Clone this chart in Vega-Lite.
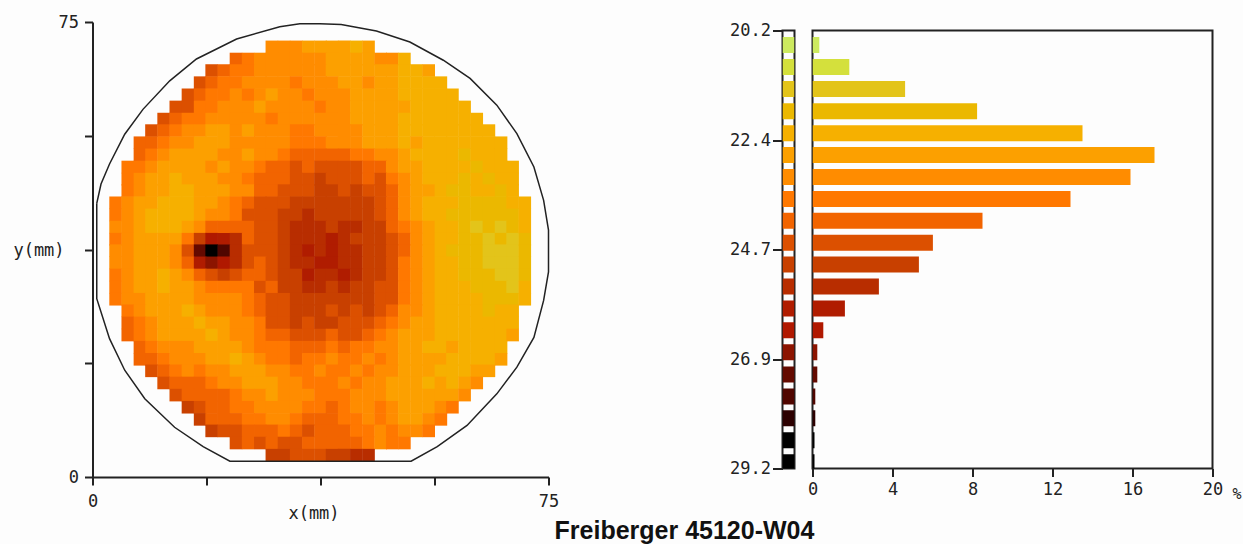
{"$schema":"https://vega.github.io/schema/vega-lite/v6.json","background":"#fdfdfd","padding":{"left":12.5,"top":13,"right":0,"bottom":0},"bounds":"flush","center":true,"spacing":18,"title":{"text":"Freiberger 45120-W04","orient":"bottom","anchor":"middle","font":"Liberation Sans","fontWeight":"bold","fontSize":25,"color":"#111","dx":57,"offset":-2},"config":{"view":{"stroke":null},"axis":{"labelFont":"DejaVu Sans Mono","titleFont":"DejaVu Sans Mono","labelFontSize":17,"titleFontSize":17,"titleFontWeight":"normal","labelColor":"#222","titleColor":"#222","domainColor":"#222","tickColor":"#222","domainWidth":2,"tickWidth":2,"grid":false,"labelFlush":false}},"datasets":{"cells":[
{"x":29.5,"y":70.9,"v":23.1},{"x":31.5,"y":70.9,"v":22.9},{"x":33.5,"y":70.9,"v":23.2},{"x":35.5,"y":70.9,"v":22.8},{"x":37.5,"y":70.9,"v":22.7},{"x":39.4,"y":70.9,"v":22.8},{"x":41.4,"y":70.9,"v":22.6},{"x":43.4,"y":70.9,"v":22.4},{"x":45.4,"y":70.9,"v":22.6},
{"x":23.6,"y":68.9,"v":24},{"x":25.6,"y":68.9,"v":23.5},{"x":27.6,"y":68.9,"v":23.2},{"x":29.5,"y":68.9,"v":23.3},{"x":31.5,"y":68.9,"v":22.9},{"x":33.5,"y":68.9,"v":23},{"x":35.5,"y":68.9,"v":23.1},{"x":37.5,"y":68.9,"v":22.9},{"x":39.4,"y":68.9,"v":22.7},{"x":41.4,"y":68.9,"v":22.7},{"x":43.4,"y":68.9,"v":22.6},{"x":45.4,"y":68.9,"v":22.8},{"x":47.4,"y":68.9,"v":22.9},{"x":49.3,"y":68.9,"v":23},{"x":51.3,"y":68.9,"v":22.4},
{"x":19.6,"y":67,"v":24.4},{"x":21.6,"y":67,"v":24.1},{"x":23.6,"y":67,"v":23.5},{"x":25.6,"y":67,"v":23.4},{"x":27.6,"y":67,"v":23.1},{"x":29.5,"y":67,"v":23.1},{"x":31.5,"y":67,"v":23.2},{"x":33.5,"y":67,"v":22.9},{"x":35.5,"y":67,"v":23.3},{"x":37.5,"y":67,"v":23},{"x":39.4,"y":67,"v":22.7},{"x":41.4,"y":67,"v":22.8},{"x":43.4,"y":67,"v":22.6},{"x":45.4,"y":67,"v":22.7},{"x":47.4,"y":67,"v":22.7},{"x":49.3,"y":67,"v":22.5},{"x":51.3,"y":67,"v":22.2},{"x":53.3,"y":67,"v":22.3},{"x":55.3,"y":67,"v":22.5},
{"x":17.7,"y":65,"v":24.4},{"x":19.6,"y":65,"v":24.2},{"x":21.6,"y":65,"v":23.6},{"x":23.6,"y":65,"v":23.4},{"x":25.6,"y":65,"v":23.3},{"x":27.6,"y":65,"v":23},{"x":29.5,"y":65,"v":22.9},{"x":31.5,"y":65,"v":23.2},{"x":33.5,"y":65,"v":23.4},{"x":35.5,"y":65,"v":23.1},{"x":37.5,"y":65,"v":23.2},{"x":39.4,"y":65,"v":22.9},{"x":41.4,"y":65,"v":22.8},{"x":43.4,"y":65,"v":22.6},{"x":45.4,"y":65,"v":22.9},{"x":47.4,"y":65,"v":22.7},{"x":49.3,"y":65,"v":22.5},{"x":51.3,"y":65,"v":22.2},{"x":53.3,"y":65,"v":22.4},{"x":55.3,"y":65,"v":22.3},{"x":57.3,"y":65,"v":22.4},
{"x":15.7,"y":63,"v":24.6},{"x":17.7,"y":63,"v":24.1},{"x":19.6,"y":63,"v":23.7},{"x":21.6,"y":63,"v":23.6},{"x":23.6,"y":63,"v":23.2},{"x":25.6,"y":63,"v":23.4},{"x":27.6,"y":63,"v":22.9},{"x":29.5,"y":63,"v":22.8},{"x":31.5,"y":63,"v":23.3},{"x":33.5,"y":63,"v":23},{"x":35.5,"y":63,"v":23.4},{"x":37.5,"y":63,"v":23.1},{"x":39.4,"y":63,"v":23.1},{"x":41.4,"y":63,"v":22.9},{"x":43.4,"y":63,"v":22.8},{"x":45.4,"y":63,"v":22.7},{"x":47.4,"y":63,"v":22.6},{"x":49.3,"y":63,"v":22.7},{"x":51.3,"y":63,"v":22.3},{"x":53.3,"y":63,"v":22.1},{"x":55.3,"y":63,"v":22.3},{"x":57.3,"y":63,"v":22.2},{"x":59.2,"y":63,"v":22.3},
{"x":13.7,"y":61,"v":24.6},{"x":15.7,"y":61,"v":24.3},{"x":17.7,"y":61,"v":23.7},{"x":19.6,"y":61,"v":23.5},{"x":21.6,"y":61,"v":23.1},{"x":23.6,"y":61,"v":23.3},{"x":25.6,"y":61,"v":23},{"x":27.6,"y":61,"v":22.8},{"x":29.5,"y":61,"v":22.9},{"x":31.5,"y":61,"v":23.3},{"x":33.5,"y":61,"v":23.1},{"x":35.5,"y":61,"v":23.2},{"x":37.5,"y":61,"v":23.5},{"x":39.4,"y":61,"v":22.9},{"x":41.4,"y":61,"v":23},{"x":43.4,"y":61,"v":22.8},{"x":45.4,"y":61,"v":22.7},{"x":47.4,"y":61,"v":22.5},{"x":49.3,"y":61,"v":22.6},{"x":51.3,"y":61,"v":22.5},{"x":53.3,"y":61,"v":22},{"x":55.3,"y":61,"v":22.2},{"x":57.3,"y":61,"v":22.1},{"x":59.2,"y":61,"v":22.3},{"x":61.2,"y":61,"v":22.3},
{"x":11.7,"y":59,"v":24.5},{"x":13.7,"y":59,"v":24.2},{"x":15.7,"y":59,"v":23.7},{"x":17.7,"y":59,"v":23.4},{"x":19.6,"y":59,"v":23.2},{"x":21.6,"y":59,"v":23},{"x":23.6,"y":59,"v":23.3},{"x":25.6,"y":59,"v":22.9},{"x":27.6,"y":59,"v":23.1},{"x":29.5,"y":59,"v":23.4},{"x":31.5,"y":59,"v":23},{"x":33.5,"y":59,"v":23.2},{"x":35.5,"y":59,"v":23.3},{"x":37.5,"y":59,"v":23},{"x":39.4,"y":59,"v":23.1},{"x":41.4,"y":59,"v":22.9},{"x":43.4,"y":59,"v":22.8},{"x":45.4,"y":59,"v":22.6},{"x":47.4,"y":59,"v":22.7},{"x":49.3,"y":59,"v":22.5},{"x":51.3,"y":59,"v":22.2},{"x":53.3,"y":59,"v":22.4},{"x":55.3,"y":59,"v":22.1},{"x":57.3,"y":59,"v":22.1},{"x":59.2,"y":59,"v":22.2},{"x":61.2,"y":59,"v":22.2},{"x":63.2,"y":59,"v":22.3},
{"x":9.7,"y":57.1,"v":24.3},{"x":11.7,"y":57.1,"v":23.9},{"x":13.7,"y":57.1,"v":23.5},{"x":15.7,"y":57.1,"v":23.3},{"x":17.7,"y":57.1,"v":23},{"x":19.6,"y":57.1,"v":22.8},{"x":21.6,"y":57.1,"v":22.8},{"x":23.6,"y":57.1,"v":23.1},{"x":25.6,"y":57.1,"v":22.7},{"x":27.6,"y":57.1,"v":23},{"x":29.5,"y":57.1,"v":23.2},{"x":31.5,"y":57.1,"v":23.1},{"x":33.5,"y":57.1,"v":23.5},{"x":35.5,"y":57.1,"v":23.4},{"x":37.5,"y":57.1,"v":23.1},{"x":39.4,"y":57.1,"v":23.3},{"x":41.4,"y":57.1,"v":23},{"x":43.4,"y":57.1,"v":22.9},{"x":45.4,"y":57.1,"v":22.7},{"x":47.4,"y":57.1,"v":22.7},{"x":49.3,"y":57.1,"v":22.5},{"x":51.3,"y":57.1,"v":22.4},{"x":53.3,"y":57.1,"v":22.1},{"x":55.3,"y":57.1,"v":22.2},{"x":57.3,"y":57.1,"v":22},{"x":59.2,"y":57.1,"v":22.2},{"x":61.2,"y":57.1,"v":22.1},{"x":63.2,"y":57.1,"v":22.2},{"x":65.2,"y":57.1,"v":22.3},
{"x":7.8,"y":55.1,"v":24.2},{"x":9.7,"y":55.1,"v":23.8},{"x":11.7,"y":55.1,"v":23.4},{"x":13.7,"y":55.1,"v":23},{"x":15.7,"y":55.1,"v":22.9},{"x":17.7,"y":55.1,"v":22.6},{"x":19.6,"y":55.1,"v":22.8},{"x":21.6,"y":55.1,"v":22.7},{"x":23.6,"y":55.1,"v":22.9},{"x":25.6,"y":55.1,"v":23.1},{"x":27.6,"y":55.1,"v":22.9},{"x":29.5,"y":55.1,"v":23.3},{"x":31.5,"y":55.1,"v":23.2},{"x":33.5,"y":55.1,"v":23.5},{"x":35.5,"y":55.1,"v":23.7},{"x":37.5,"y":55.1,"v":23.4},{"x":39.4,"y":55.1,"v":23.2},{"x":41.4,"y":55.1,"v":23.1},{"x":43.4,"y":55.1,"v":23.3},{"x":45.4,"y":55.1,"v":22.8},{"x":47.4,"y":55.1,"v":22.7},{"x":49.3,"y":55.1,"v":22.6},{"x":51.3,"y":55.1,"v":22.3},{"x":53.3,"y":55.1,"v":22.5},{"x":55.3,"y":55.1,"v":22.2},{"x":57.3,"y":55.1,"v":22},{"x":59.2,"y":55.1,"v":22.3},{"x":61.2,"y":55.1,"v":22},{"x":63.2,"y":55.1,"v":22.1},{"x":65.2,"y":55.1,"v":22.2},{"x":67.2,"y":55.1,"v":22.3},
{"x":7.8,"y":53.1,"v":23.8},{"x":9.7,"y":53.1,"v":23.5},{"x":11.7,"y":53.1,"v":23},{"x":13.7,"y":53.1,"v":22.8},{"x":15.7,"y":53.1,"v":22.7},{"x":17.7,"y":53.1,"v":22.5},{"x":19.6,"y":53.1,"v":22.8},{"x":21.6,"y":53.1,"v":22.9},{"x":23.6,"y":53.1,"v":23},{"x":25.6,"y":53.1,"v":22.7},{"x":27.6,"y":53.1,"v":23.1},{"x":29.5,"y":53.1,"v":23.2},{"x":31.5,"y":53.1,"v":23.6},{"x":33.5,"y":53.1,"v":23.8},{"x":35.5,"y":53.1,"v":23.9},{"x":37.5,"y":53.1,"v":24.1},{"x":39.4,"y":53.1,"v":23.8},{"x":41.4,"y":53.1,"v":24},{"x":43.4,"y":53.1,"v":23.7},{"x":45.4,"y":53.1,"v":23.4},{"x":47.4,"y":53.1,"v":23.1},{"x":49.3,"y":53.1,"v":22.9},{"x":51.3,"y":53.1,"v":22.6},{"x":53.3,"y":53.1,"v":22.4},{"x":55.3,"y":53.1,"v":22.3},{"x":57.3,"y":53.1,"v":22.1},{"x":59.2,"y":53.1,"v":22.2},{"x":61.2,"y":53.1,"v":21.8},{"x":63.2,"y":53.1,"v":22.1},{"x":65.2,"y":53.1,"v":22.2},{"x":67.2,"y":53.1,"v":22.2},
{"x":5.8,"y":51.1,"v":23.7},{"x":7.8,"y":51.1,"v":23.4},{"x":9.7,"y":51.1,"v":23.1},{"x":11.7,"y":51.1,"v":22.7},{"x":13.7,"y":51.1,"v":22.5},{"x":15.7,"y":51.1,"v":22.7},{"x":17.7,"y":51.1,"v":22.6},{"x":19.6,"y":51.1,"v":22.9},{"x":21.6,"y":51.1,"v":22.7},{"x":23.6,"y":51.1,"v":23},{"x":25.6,"y":51.1,"v":23.3},{"x":27.6,"y":51.1,"v":23.4},{"x":29.5,"y":51.1,"v":23.8},{"x":31.5,"y":51.1,"v":23.9},{"x":33.5,"y":51.1,"v":24.3},{"x":35.5,"y":51.1,"v":24.2},{"x":37.5,"y":51.1,"v":24.4},{"x":39.4,"y":51.1,"v":24.3},{"x":41.4,"y":51.1,"v":24.5},{"x":43.4,"y":51.1,"v":24.4},{"x":45.4,"y":51.1,"v":24.1},{"x":47.4,"y":51.1,"v":23.8},{"x":49.3,"y":51.1,"v":23.2},{"x":51.3,"y":51.1,"v":22.8},{"x":53.3,"y":51.1,"v":22.5},{"x":55.3,"y":51.1,"v":22.3},{"x":57.3,"y":51.1,"v":22.1},{"x":59.2,"y":51.1,"v":22},{"x":61.2,"y":51.1,"v":22.2},{"x":63.2,"y":51.1,"v":21.8},{"x":65.2,"y":51.1,"v":22.1},{"x":67.2,"y":51.1,"v":22},{"x":69.1,"y":51.1,"v":22.1},
{"x":5.8,"y":49.1,"v":23.5},{"x":7.8,"y":49.1,"v":23.1},{"x":9.7,"y":49.1,"v":22.8},{"x":11.7,"y":49.1,"v":22.7},{"x":13.7,"y":49.1,"v":22.4},{"x":15.7,"y":49.1,"v":22.5},{"x":17.7,"y":49.1,"v":22.6},{"x":19.6,"y":49.1,"v":22.8},{"x":21.6,"y":49.1,"v":22.9},{"x":23.6,"y":49.1,"v":22.9},{"x":25.6,"y":49.1,"v":23.4},{"x":27.6,"y":49.1,"v":23.8},{"x":29.5,"y":49.1,"v":24.1},{"x":31.5,"y":49.1,"v":24.2},{"x":33.5,"y":49.1,"v":24.5},{"x":35.5,"y":49.1,"v":24.5},{"x":37.5,"y":49.1,"v":24.8},{"x":39.4,"y":49.1,"v":24.6},{"x":41.4,"y":49.1,"v":24.6},{"x":43.4,"y":49.1,"v":24.5},{"x":45.4,"y":49.1,"v":24.2},{"x":47.4,"y":49.1,"v":24.3},{"x":49.3,"y":49.1,"v":23.7},{"x":51.3,"y":49.1,"v":23},{"x":53.3,"y":49.1,"v":22.5},{"x":55.3,"y":49.1,"v":22.4},{"x":57.3,"y":49.1,"v":22.1},{"x":59.2,"y":49.1,"v":22.2},{"x":61.2,"y":49.1,"v":21.8},{"x":63.2,"y":49.1,"v":22},{"x":65.2,"y":49.1,"v":21.9},{"x":67.2,"y":49.1,"v":22},{"x":69.1,"y":49.1,"v":22.1},
{"x":5.8,"y":47.2,"v":23.4},{"x":7.8,"y":47.2,"v":23},{"x":9.7,"y":47.2,"v":22.7},{"x":11.7,"y":47.2,"v":22.5},{"x":13.7,"y":47.2,"v":22.4},{"x":15.7,"y":47.2,"v":22.3},{"x":17.7,"y":47.2,"v":22.5},{"x":19.6,"y":47.2,"v":22.6},{"x":21.6,"y":47.2,"v":22.8},{"x":23.6,"y":47.2,"v":23.1},{"x":25.6,"y":47.2,"v":23.3},{"x":27.6,"y":47.2,"v":24.1},{"x":29.5,"y":47.2,"v":24.2},{"x":31.5,"y":47.2,"v":24.6},{"x":33.5,"y":47.2,"v":24.6},{"x":35.5,"y":47.2,"v":24.5},{"x":37.5,"y":47.2,"v":24.9},{"x":39.4,"y":47.2,"v":25},{"x":41.4,"y":47.2,"v":24.6},{"x":43.4,"y":47.2,"v":25.1},{"x":45.4,"y":47.2,"v":24.6},{"x":47.4,"y":47.2,"v":24.4},{"x":49.3,"y":47.2,"v":24},{"x":51.3,"y":47.2,"v":23.2},{"x":53.3,"y":47.2,"v":22.7},{"x":55.3,"y":47.2,"v":22.5},{"x":57.3,"y":47.2,"v":22.2},{"x":59.2,"y":47.2,"v":21.8},{"x":61.2,"y":47.2,"v":21.7},{"x":63.2,"y":47.2,"v":22.1},{"x":65.2,"y":47.2,"v":22},{"x":67.2,"y":47.2,"v":21.7},{"x":69.1,"y":47.2,"v":22},
{"x":3.8,"y":45.2,"v":23.7},{"x":5.8,"y":45.2,"v":23.2},{"x":7.8,"y":45.2,"v":22.8},{"x":9.7,"y":45.2,"v":22.5},{"x":11.7,"y":45.2,"v":22.4},{"x":13.7,"y":45.2,"v":22.3},{"x":15.7,"y":45.2,"v":22.2},{"x":17.7,"y":45.2,"v":22.5},{"x":19.6,"y":45.2,"v":22.7},{"x":21.6,"y":45.2,"v":23},{"x":23.6,"y":45.2,"v":23.5},{"x":25.6,"y":45.2,"v":24.2},{"x":27.6,"y":45.2,"v":24.5},{"x":29.5,"y":45.2,"v":24.6},{"x":31.5,"y":45.2,"v":24.6},{"x":33.5,"y":45.2,"v":24.9},{"x":35.5,"y":45.2,"v":24.7},{"x":37.5,"y":45.2,"v":24.8},{"x":39.4,"y":45.2,"v":25},{"x":41.4,"y":45.2,"v":25.1},{"x":43.4,"y":45.2,"v":24.9},{"x":45.4,"y":45.2,"v":24.7},{"x":47.4,"y":45.2,"v":24.4},{"x":49.3,"y":45.2,"v":23.9},{"x":51.3,"y":45.2,"v":23},{"x":53.3,"y":45.2,"v":22.6},{"x":55.3,"y":45.2,"v":22.3},{"x":57.3,"y":45.2,"v":22.1},{"x":59.2,"y":45.2,"v":22},{"x":61.2,"y":45.2,"v":21.8},{"x":63.2,"y":45.2,"v":21.6},{"x":65.2,"y":45.2,"v":21.9},{"x":67.2,"y":45.2,"v":21.8},{"x":69.1,"y":45.2,"v":22},{"x":71.1,"y":45.2,"v":22.2},
{"x":3.8,"y":43.2,"v":23.4},{"x":5.8,"y":43.2,"v":23.1},{"x":7.8,"y":43.2,"v":22.6},{"x":9.7,"y":43.2,"v":22.4},{"x":11.7,"y":43.2,"v":22.3},{"x":13.7,"y":43.2,"v":22.2},{"x":15.7,"y":43.2,"v":22.4},{"x":17.7,"y":43.2,"v":22.6},{"x":19.6,"y":43.2,"v":22.9},{"x":21.6,"y":43.2,"v":23.1},{"x":23.6,"y":43.2,"v":23.5},{"x":25.6,"y":43.2,"v":24.3},{"x":27.6,"y":43.2,"v":24.3},{"x":29.5,"y":43.2,"v":24.5},{"x":31.5,"y":43.2,"v":24.8},{"x":33.5,"y":43.2,"v":25},{"x":35.5,"y":43.2,"v":25.2},{"x":37.5,"y":43.2,"v":25.1},{"x":39.4,"y":43.2,"v":25},{"x":41.4,"y":43.2,"v":24.9},{"x":43.4,"y":43.2,"v":24.8},{"x":45.4,"y":43.2,"v":25},{"x":47.4,"y":43.2,"v":24.6},{"x":49.3,"y":43.2,"v":24},{"x":51.3,"y":43.2,"v":23.1},{"x":53.3,"y":43.2,"v":22.7},{"x":55.3,"y":43.2,"v":22.3},{"x":57.3,"y":43.2,"v":22.2},{"x":59.2,"y":43.2,"v":21.9},{"x":61.2,"y":43.2,"v":21.7},{"x":63.2,"y":43.2,"v":21.8},{"x":65.2,"y":43.2,"v":21.6},{"x":67.2,"y":43.2,"v":21.7},{"x":69.1,"y":43.2,"v":21.9},{"x":71.1,"y":43.2,"v":22.1},
{"x":3.8,"y":41.2,"v":23.3},{"x":5.8,"y":41.2,"v":22.9},{"x":7.8,"y":41.2,"v":22.6},{"x":9.7,"y":41.2,"v":22.4},{"x":11.7,"y":41.2,"v":22.2},{"x":13.7,"y":41.2,"v":22.4},{"x":15.7,"y":41.2,"v":22.7},{"x":17.7,"y":41.2,"v":23},{"x":19.6,"y":41.2,"v":23.8},{"x":21.6,"y":41.2,"v":24.1},{"x":23.6,"y":41.2,"v":23.9},{"x":25.6,"y":41.2,"v":24.2},{"x":27.6,"y":41.2,"v":24.4},{"x":29.5,"y":41.2,"v":24.6},{"x":31.5,"y":41.2,"v":24.7},{"x":33.5,"y":41.2,"v":25.2},{"x":35.5,"y":41.2,"v":25.4},{"x":37.5,"y":41.2,"v":25.3},{"x":39.4,"y":41.2,"v":25.1},{"x":41.4,"y":41.2,"v":25.4},{"x":43.4,"y":41.2,"v":25.2},{"x":45.4,"y":41.2,"v":24.9},{"x":47.4,"y":41.2,"v":24.7},{"x":49.3,"y":41.2,"v":24.2},{"x":51.3,"y":41.2,"v":23.5},{"x":53.3,"y":41.2,"v":22.9},{"x":55.3,"y":41.2,"v":22.5},{"x":57.3,"y":41.2,"v":22.2},{"x":59.2,"y":41.2,"v":22.1},{"x":61.2,"y":41.2,"v":21.9},{"x":63.2,"y":41.2,"v":21.5},{"x":65.2,"y":41.2,"v":21.7},{"x":67.2,"y":41.2,"v":21.4},{"x":69.1,"y":41.2,"v":21.7},{"x":71.1,"y":41.2,"v":22},
{"x":3.8,"y":39.2,"v":23.4},{"x":5.8,"y":39.2,"v":23},{"x":7.8,"y":39.2,"v":22.7},{"x":9.7,"y":39.2,"v":22.5},{"x":11.7,"y":39.2,"v":22.6},{"x":13.7,"y":39.2,"v":22.8},{"x":15.7,"y":39.2,"v":23.7},{"x":17.7,"y":39.2,"v":25},{"x":19.6,"y":39.2,"v":26.3},{"x":21.6,"y":39.2,"v":25.9},{"x":23.6,"y":39.2,"v":25.2},{"x":25.6,"y":39.2,"v":24.2},{"x":27.6,"y":39.2,"v":24.4},{"x":29.5,"y":39.2,"v":24.6},{"x":31.5,"y":39.2,"v":24.8},{"x":33.5,"y":39.2,"v":25.3},{"x":35.5,"y":39.2,"v":25.5},{"x":37.5,"y":39.2,"v":25.4},{"x":39.4,"y":39.2,"v":25.6},{"x":41.4,"y":39.2,"v":25.3},{"x":43.4,"y":39.2,"v":25.1},{"x":45.4,"y":39.2,"v":24.9},{"x":47.4,"y":39.2,"v":24.8},{"x":49.3,"y":39.2,"v":24.6},{"x":51.3,"y":39.2,"v":23.8},{"x":53.3,"y":39.2,"v":23},{"x":55.3,"y":39.2,"v":22.5},{"x":57.3,"y":39.2,"v":22.2},{"x":59.2,"y":39.2,"v":22},{"x":61.2,"y":39.2,"v":21.7},{"x":63.2,"y":39.2,"v":21.6},{"x":65.2,"y":39.2,"v":21.4},{"x":67.2,"y":39.2,"v":21.6},{"x":69.1,"y":39.2,"v":21.4},{"x":71.1,"y":39.2,"v":21.9},
{"x":3.8,"y":37.3,"v":23.2},{"x":5.8,"y":37.3,"v":22.9},{"x":7.8,"y":37.3,"v":22.6},{"x":9.7,"y":37.3,"v":22.6},{"x":11.7,"y":37.3,"v":22.7},{"x":13.7,"y":37.3,"v":23.1},{"x":15.7,"y":37.3,"v":24.3},{"x":17.7,"y":37.3,"v":27},{"x":19.6,"y":37.3,"v":29},{"x":21.6,"y":37.3,"v":27.8},{"x":23.6,"y":37.3,"v":25.5},{"x":25.6,"y":37.3,"v":24.5},{"x":27.6,"y":37.3,"v":24.4},{"x":29.5,"y":37.3,"v":24.6},{"x":31.5,"y":37.3,"v":24.9},{"x":33.5,"y":37.3,"v":25.4},{"x":35.5,"y":37.3,"v":25.6},{"x":37.5,"y":37.3,"v":25.5},{"x":39.4,"y":37.3,"v":25.7},{"x":41.4,"y":37.3,"v":25.5},{"x":43.4,"y":37.3,"v":25.4},{"x":45.4,"y":37.3,"v":25},{"x":47.4,"y":37.3,"v":24.9},{"x":49.3,"y":37.3,"v":24.6},{"x":51.3,"y":37.3,"v":23.9},{"x":53.3,"y":37.3,"v":23.1},{"x":55.3,"y":37.3,"v":22.6},{"x":57.3,"y":37.3,"v":22.3},{"x":59.2,"y":37.3,"v":21.9},{"x":61.2,"y":37.3,"v":21.8},{"x":63.2,"y":37.3,"v":21.7},{"x":65.2,"y":37.3,"v":21.5},{"x":67.2,"y":37.3,"v":21.3},{"x":69.1,"y":37.3,"v":21.5},{"x":71.1,"y":37.3,"v":21.8},
{"x":3.8,"y":35.3,"v":23.3},{"x":5.8,"y":35.3,"v":23},{"x":7.8,"y":35.3,"v":22.8},{"x":9.7,"y":35.3,"v":22.6},{"x":11.7,"y":35.3,"v":22.7},{"x":13.7,"y":35.3,"v":23},{"x":15.7,"y":35.3,"v":24},{"x":17.7,"y":35.3,"v":25.6},{"x":19.6,"y":35.3,"v":26.8},{"x":21.6,"y":35.3,"v":26.2},{"x":23.6,"y":35.3,"v":25.3},{"x":25.6,"y":35.3,"v":24.4},{"x":27.6,"y":35.3,"v":24.2},{"x":29.5,"y":35.3,"v":24.6},{"x":31.5,"y":35.3,"v":24.7},{"x":33.5,"y":35.3,"v":25.3},{"x":35.5,"y":35.3,"v":25.5},{"x":37.5,"y":35.3,"v":25.6},{"x":39.4,"y":35.3,"v":25.7},{"x":41.4,"y":35.3,"v":25.4},{"x":43.4,"y":35.3,"v":25.3},{"x":45.4,"y":35.3,"v":25.1},{"x":47.4,"y":35.3,"v":24.8},{"x":49.3,"y":35.3,"v":24.5},{"x":51.3,"y":35.3,"v":23.7},{"x":53.3,"y":35.3,"v":23},{"x":55.3,"y":35.3,"v":22.5},{"x":57.3,"y":35.3,"v":22.1},{"x":59.2,"y":35.3,"v":22},{"x":61.2,"y":35.3,"v":21.8},{"x":63.2,"y":35.3,"v":21.6},{"x":65.2,"y":35.3,"v":21.3},{"x":67.2,"y":35.3,"v":21.5},{"x":69.1,"y":35.3,"v":21.4},{"x":71.1,"y":35.3,"v":21.7},
{"x":3.8,"y":33.3,"v":23.4},{"x":5.8,"y":33.3,"v":23.1},{"x":7.8,"y":33.3,"v":22.7},{"x":9.7,"y":33.3,"v":22.5},{"x":11.7,"y":33.3,"v":22.4},{"x":13.7,"y":33.3,"v":22.6},{"x":15.7,"y":33.3,"v":23.3},{"x":17.7,"y":33.3,"v":24},{"x":19.6,"y":33.3,"v":24.6},{"x":21.6,"y":33.3,"v":24.8},{"x":23.6,"y":33.3,"v":24.4},{"x":25.6,"y":33.3,"v":24.1},{"x":27.6,"y":33.3,"v":24.2},{"x":29.5,"y":33.3,"v":24.5},{"x":31.5,"y":33.3,"v":24.8},{"x":33.5,"y":33.3,"v":25.1},{"x":35.5,"y":33.3,"v":25.6},{"x":37.5,"y":33.3,"v":25.4},{"x":39.4,"y":33.3,"v":25.3},{"x":41.4,"y":33.3,"v":25.6},{"x":43.4,"y":33.3,"v":25.2},{"x":45.4,"y":33.3,"v":25},{"x":47.4,"y":33.3,"v":24.7},{"x":49.3,"y":33.3,"v":24.4},{"x":51.3,"y":33.3,"v":23.7},{"x":53.3,"y":33.3,"v":22.9},{"x":55.3,"y":33.3,"v":22.6},{"x":57.3,"y":33.3,"v":22.3},{"x":59.2,"y":33.3,"v":22.2},{"x":61.2,"y":33.3,"v":21.9},{"x":63.2,"y":33.3,"v":21.8},{"x":65.2,"y":33.3,"v":21.6},{"x":67.2,"y":33.3,"v":21.4},{"x":69.1,"y":33.3,"v":21.3},{"x":71.1,"y":33.3,"v":21.9},
{"x":3.8,"y":31.3,"v":23.6},{"x":5.8,"y":31.3,"v":23.2},{"x":7.8,"y":31.3,"v":22.8},{"x":9.7,"y":31.3,"v":22.6},{"x":11.7,"y":31.3,"v":22.4},{"x":13.7,"y":31.3,"v":22.5},{"x":15.7,"y":31.3,"v":22.8},{"x":17.7,"y":31.3,"v":23.2},{"x":19.6,"y":31.3,"v":23.6},{"x":21.6,"y":31.3,"v":23.7},{"x":23.6,"y":31.3,"v":23.6},{"x":25.6,"y":31.3,"v":23.7},{"x":27.6,"y":31.3,"v":24.3},{"x":29.5,"y":31.3,"v":24.2},{"x":31.5,"y":31.3,"v":24.7},{"x":33.5,"y":31.3,"v":25},{"x":35.5,"y":31.3,"v":25.2},{"x":37.5,"y":31.3,"v":25.3},{"x":39.4,"y":31.3,"v":25},{"x":41.4,"y":31.3,"v":25.2},{"x":43.4,"y":31.3,"v":24.9},{"x":45.4,"y":31.3,"v":25},{"x":47.4,"y":31.3,"v":24.6},{"x":49.3,"y":31.3,"v":24.4},{"x":51.3,"y":31.3,"v":23.7},{"x":53.3,"y":31.3,"v":22.9},{"x":55.3,"y":31.3,"v":22.6},{"x":57.3,"y":31.3,"v":22.4},{"x":59.2,"y":31.3,"v":22.2},{"x":61.2,"y":31.3,"v":22.1},{"x":63.2,"y":31.3,"v":21.9},{"x":65.2,"y":31.3,"v":21.8},{"x":67.2,"y":31.3,"v":21.6},{"x":69.1,"y":31.3,"v":21.4},{"x":71.1,"y":31.3,"v":22},
{"x":3.8,"y":29.3,"v":23.7},{"x":5.8,"y":29.3,"v":23.3},{"x":7.8,"y":29.3,"v":23},{"x":9.7,"y":29.3,"v":22.7},{"x":11.7,"y":29.3,"v":22.5},{"x":13.7,"y":29.3,"v":22.5},{"x":15.7,"y":29.3,"v":22.7},{"x":17.7,"y":29.3,"v":22.9},{"x":19.6,"y":29.3,"v":23.1},{"x":21.6,"y":29.3,"v":23.2},{"x":23.6,"y":29.3,"v":23.3},{"x":25.6,"y":29.3,"v":23.5},{"x":27.6,"y":29.3,"v":24.1},{"x":29.5,"y":29.3,"v":24.4},{"x":31.5,"y":29.3,"v":24.5},{"x":33.5,"y":29.3,"v":24.9},{"x":35.5,"y":29.3,"v":24.8},{"x":37.5,"y":29.3,"v":25},{"x":39.4,"y":29.3,"v":24.8},{"x":41.4,"y":29.3,"v":25.1},{"x":43.4,"y":29.3,"v":24.7},{"x":45.4,"y":29.3,"v":24.8},{"x":47.4,"y":29.3,"v":24.6},{"x":49.3,"y":29.3,"v":24.4},{"x":51.3,"y":29.3,"v":23.5},{"x":53.3,"y":29.3,"v":22.9},{"x":55.3,"y":29.3,"v":22.6},{"x":57.3,"y":29.3,"v":22.4},{"x":59.2,"y":29.3,"v":22.2},{"x":61.2,"y":29.3,"v":22},{"x":63.2,"y":29.3,"v":22.1},{"x":65.2,"y":29.3,"v":21.7},{"x":67.2,"y":29.3,"v":21.6},{"x":69.1,"y":29.3,"v":21.9},{"x":71.1,"y":29.3,"v":22.2},
{"x":5.8,"y":27.4,"v":23.5},{"x":7.8,"y":27.4,"v":23.1},{"x":9.7,"y":27.4,"v":22.8},{"x":11.7,"y":27.4,"v":22.6},{"x":13.7,"y":27.4,"v":22.7},{"x":15.7,"y":27.4,"v":22.4},{"x":17.7,"y":27.4,"v":22.7},{"x":19.6,"y":27.4,"v":22.9},{"x":21.6,"y":27.4,"v":23},{"x":23.6,"y":27.4,"v":23.1},{"x":25.6,"y":27.4,"v":23.5},{"x":27.6,"y":27.4,"v":24.2},{"x":29.5,"y":27.4,"v":24.5},{"x":31.5,"y":27.4,"v":24.6},{"x":33.5,"y":27.4,"v":24.7},{"x":35.5,"y":27.4,"v":24.8},{"x":37.5,"y":27.4,"v":24.9},{"x":39.4,"y":27.4,"v":24.6},{"x":41.4,"y":27.4,"v":24.8},{"x":43.4,"y":27.4,"v":24.6},{"x":45.4,"y":27.4,"v":24.7},{"x":47.4,"y":27.4,"v":24.4},{"x":49.3,"y":27.4,"v":24.1},{"x":51.3,"y":27.4,"v":23.3},{"x":53.3,"y":27.4,"v":22.9},{"x":55.3,"y":27.4,"v":22.5},{"x":57.3,"y":27.4,"v":22.4},{"x":59.2,"y":27.4,"v":22.3},{"x":61.2,"y":27.4,"v":22.1},{"x":63.2,"y":27.4,"v":22},{"x":65.2,"y":27.4,"v":21.8},{"x":67.2,"y":27.4,"v":22},{"x":69.1,"y":27.4,"v":22.2},
{"x":5.8,"y":25.4,"v":23.8},{"x":7.8,"y":25.4,"v":23.4},{"x":9.7,"y":25.4,"v":23},{"x":11.7,"y":25.4,"v":22.7},{"x":13.7,"y":25.4,"v":22.6},{"x":15.7,"y":25.4,"v":22.5},{"x":17.7,"y":25.4,"v":22.4},{"x":19.6,"y":25.4,"v":22.6},{"x":21.6,"y":25.4,"v":22.8},{"x":23.6,"y":25.4,"v":23},{"x":25.6,"y":25.4,"v":23.1},{"x":27.6,"y":25.4,"v":23.7},{"x":29.5,"y":25.4,"v":24.4},{"x":31.5,"y":25.4,"v":24.6},{"x":33.5,"y":25.4,"v":24.8},{"x":35.5,"y":25.4,"v":24.6},{"x":37.5,"y":25.4,"v":24.7},{"x":39.4,"y":25.4,"v":24.9},{"x":41.4,"y":25.4,"v":24.5},{"x":43.4,"y":25.4,"v":24.5},{"x":45.4,"y":25.4,"v":24.3},{"x":47.4,"y":25.4,"v":24.1},{"x":49.3,"y":25.4,"v":23.5},{"x":51.3,"y":25.4,"v":23},{"x":53.3,"y":25.4,"v":22.7},{"x":55.3,"y":25.4,"v":22.6},{"x":57.3,"y":25.4,"v":22.4},{"x":59.2,"y":25.4,"v":22.2},{"x":61.2,"y":25.4,"v":22.1},{"x":63.2,"y":25.4,"v":22.2},{"x":65.2,"y":25.4,"v":22},{"x":67.2,"y":25.4,"v":22.3},{"x":69.1,"y":25.4,"v":22.3},
{"x":5.8,"y":23.4,"v":24.1},{"x":7.8,"y":23.4,"v":23.6},{"x":9.7,"y":23.4,"v":23.1},{"x":11.7,"y":23.4,"v":22.8},{"x":13.7,"y":23.4,"v":22.7},{"x":15.7,"y":23.4,"v":22.8},{"x":17.7,"y":23.4,"v":22.5},{"x":19.6,"y":23.4,"v":22.4},{"x":21.6,"y":23.4,"v":22.7},{"x":23.6,"y":23.4,"v":22.9},{"x":25.6,"y":23.4,"v":23.2},{"x":27.6,"y":23.4,"v":23.5},{"x":29.5,"y":23.4,"v":23.9},{"x":31.5,"y":23.4,"v":24.1},{"x":33.5,"y":23.4,"v":24.4},{"x":35.5,"y":23.4,"v":24.5},{"x":37.5,"y":23.4,"v":24.6},{"x":39.4,"y":23.4,"v":24.2},{"x":41.4,"y":23.4,"v":24.4},{"x":43.4,"y":23.4,"v":24.3},{"x":45.4,"y":23.4,"v":23.9},{"x":47.4,"y":23.4,"v":23.6},{"x":49.3,"y":23.4,"v":23.3},{"x":51.3,"y":23.4,"v":22.8},{"x":53.3,"y":23.4,"v":22.7},{"x":55.3,"y":23.4,"v":22.5},{"x":57.3,"y":23.4,"v":22.3},{"x":59.2,"y":23.4,"v":22.4},{"x":61.2,"y":23.4,"v":22.2},{"x":63.2,"y":23.4,"v":22.1},{"x":65.2,"y":23.4,"v":22.3},{"x":67.2,"y":23.4,"v":22.3},{"x":69.1,"y":23.4,"v":22.5},
{"x":7.8,"y":21.4,"v":24},{"x":9.7,"y":21.4,"v":23.5},{"x":11.7,"y":21.4,"v":23.1},{"x":13.7,"y":21.4,"v":23},{"x":15.7,"y":21.4,"v":22.9},{"x":17.7,"y":21.4,"v":22.7},{"x":19.6,"y":21.4,"v":22.5},{"x":21.6,"y":21.4,"v":22.6},{"x":23.6,"y":21.4,"v":22.8},{"x":25.6,"y":21.4,"v":23.3},{"x":27.6,"y":21.4,"v":23.4},{"x":29.5,"y":21.4,"v":23.6},{"x":31.5,"y":21.4,"v":23.7},{"x":33.5,"y":21.4,"v":23.9},{"x":35.5,"y":21.4,"v":24.1},{"x":37.5,"y":21.4,"v":24},{"x":39.4,"y":21.4,"v":23.7},{"x":41.4,"y":21.4,"v":24},{"x":43.4,"y":21.4,"v":23.6},{"x":45.4,"y":21.4,"v":23.4},{"x":47.4,"y":21.4,"v":23.3},{"x":49.3,"y":21.4,"v":23.2},{"x":51.3,"y":21.4,"v":22.7},{"x":53.3,"y":21.4,"v":22.8},{"x":55.3,"y":21.4,"v":22.4},{"x":57.3,"y":21.4,"v":22.3},{"x":59.2,"y":21.4,"v":22.5},{"x":61.2,"y":21.4,"v":22.2},{"x":63.2,"y":21.4,"v":22.1},{"x":65.2,"y":21.4,"v":22.2},{"x":67.2,"y":21.4,"v":22.4},
{"x":7.8,"y":19.4,"v":24.2},{"x":9.7,"y":19.4,"v":23.9},{"x":11.7,"y":19.4,"v":23.4},{"x":13.7,"y":19.4,"v":23.1},{"x":15.7,"y":19.4,"v":23.2},{"x":17.7,"y":19.4,"v":23},{"x":19.6,"y":19.4,"v":22.8},{"x":21.6,"y":19.4,"v":22.7},{"x":23.6,"y":19.4,"v":22.4},{"x":25.6,"y":19.4,"v":22.7},{"x":27.6,"y":19.4,"v":23.2},{"x":29.5,"y":19.4,"v":23.5},{"x":31.5,"y":19.4,"v":23.4},{"x":33.5,"y":19.4,"v":23.8},{"x":35.5,"y":19.4,"v":23.5},{"x":37.5,"y":19.4,"v":23.7},{"x":39.4,"y":19.4,"v":23.3},{"x":41.4,"y":19.4,"v":23.6},{"x":43.4,"y":19.4,"v":23.4},{"x":45.4,"y":19.4,"v":23.3},{"x":47.4,"y":19.4,"v":23.5},{"x":49.3,"y":19.4,"v":23.2},{"x":51.3,"y":19.4,"v":22.8},{"x":53.3,"y":19.4,"v":22.6},{"x":55.3,"y":19.4,"v":22.5},{"x":57.3,"y":19.4,"v":22.7},{"x":59.2,"y":19.4,"v":22.4},{"x":61.2,"y":19.4,"v":22.2},{"x":63.2,"y":19.4,"v":22.3},{"x":65.2,"y":19.4,"v":22.3},{"x":67.2,"y":19.4,"v":22.5},
{"x":9.7,"y":17.5,"v":24.5},{"x":11.7,"y":17.5,"v":24},{"x":13.7,"y":17.5,"v":23.5},{"x":15.7,"y":17.5,"v":23.3},{"x":17.7,"y":17.5,"v":23.4},{"x":19.6,"y":17.5,"v":23},{"x":21.6,"y":17.5,"v":22.9},{"x":23.6,"y":17.5,"v":22.6},{"x":25.6,"y":17.5,"v":22.7},{"x":27.6,"y":17.5,"v":22.5},{"x":29.5,"y":17.5,"v":22.9},{"x":31.5,"y":17.5,"v":23.2},{"x":33.5,"y":17.5,"v":23.4},{"x":35.5,"y":17.5,"v":23.7},{"x":37.5,"y":17.5,"v":23.3},{"x":39.4,"y":17.5,"v":23.5},{"x":41.4,"y":17.5,"v":23.6},{"x":43.4,"y":17.5,"v":23.2},{"x":45.4,"y":17.5,"v":23.4},{"x":47.4,"y":17.5,"v":23.1},{"x":49.3,"y":17.5,"v":23},{"x":51.3,"y":17.5,"v":22.7},{"x":53.3,"y":17.5,"v":22.5},{"x":55.3,"y":17.5,"v":22.6},{"x":57.3,"y":17.5,"v":22.3},{"x":59.2,"y":17.5,"v":22.3},{"x":61.2,"y":17.5,"v":22.4},{"x":63.2,"y":17.5,"v":22.5},{"x":65.2,"y":17.5,"v":22.8},
{"x":11.7,"y":15.5,"v":24.5},{"x":13.7,"y":15.5,"v":24.2},{"x":15.7,"y":15.5,"v":23.9},{"x":17.7,"y":15.5,"v":24},{"x":19.6,"y":15.5,"v":23.5},{"x":21.6,"y":15.5,"v":23.2},{"x":23.6,"y":15.5,"v":23},{"x":25.6,"y":15.5,"v":22.8},{"x":27.6,"y":15.5,"v":22.6},{"x":29.5,"y":15.5,"v":22.7},{"x":31.5,"y":15.5,"v":23},{"x":33.5,"y":15.5,"v":23.3},{"x":35.5,"y":15.5,"v":23.5},{"x":37.5,"y":15.5,"v":23.6},{"x":39.4,"y":15.5,"v":23.5},{"x":41.4,"y":15.5,"v":23.2},{"x":43.4,"y":15.5,"v":23.4},{"x":45.4,"y":15.5,"v":23.1},{"x":47.4,"y":15.5,"v":22.9},{"x":49.3,"y":15.5,"v":22.8},{"x":51.3,"y":15.5,"v":22.8},{"x":53.3,"y":15.5,"v":22.5},{"x":55.3,"y":15.5,"v":22.4},{"x":57.3,"y":15.5,"v":22.6},{"x":59.2,"y":15.5,"v":22.4},{"x":61.2,"y":15.5,"v":22.6},{"x":63.2,"y":15.5,"v":23},
{"x":13.7,"y":13.5,"v":24.6},{"x":15.7,"y":13.5,"v":24.2},{"x":17.7,"y":13.5,"v":24.1},{"x":19.6,"y":13.5,"v":23.8},{"x":21.6,"y":13.5,"v":23.9},{"x":23.6,"y":13.5,"v":23.4},{"x":25.6,"y":13.5,"v":23.1},{"x":27.6,"y":13.5,"v":22.9},{"x":29.5,"y":13.5,"v":22.7},{"x":31.5,"y":13.5,"v":23.1},{"x":33.5,"y":13.5,"v":23},{"x":35.5,"y":13.5,"v":23.3},{"x":37.5,"y":13.5,"v":23.5},{"x":39.4,"y":13.5,"v":23.4},{"x":41.4,"y":13.5,"v":23.7},{"x":43.4,"y":13.5,"v":23.3},{"x":45.4,"y":13.5,"v":23.1},{"x":47.4,"y":13.5,"v":23},{"x":49.3,"y":13.5,"v":22.8},{"x":51.3,"y":13.5,"v":22.5},{"x":53.3,"y":13.5,"v":22.7},{"x":55.3,"y":13.5,"v":22.5},{"x":57.3,"y":13.5,"v":22.6},{"x":59.2,"y":13.5,"v":22.7},{"x":61.2,"y":13.5,"v":23.2},
{"x":15.7,"y":11.5,"v":25},{"x":17.7,"y":11.5,"v":24.4},{"x":19.6,"y":11.5,"v":24.1},{"x":21.6,"y":11.5,"v":24},{"x":23.6,"y":11.5,"v":23.7},{"x":25.6,"y":11.5,"v":23.5},{"x":27.6,"y":11.5,"v":23.3},{"x":29.5,"y":11.5,"v":23.1},{"x":31.5,"y":11.5,"v":23},{"x":33.5,"y":11.5,"v":23.2},{"x":35.5,"y":11.5,"v":23.4},{"x":37.5,"y":11.5,"v":23.7},{"x":39.4,"y":11.5,"v":23.8},{"x":41.4,"y":11.5,"v":23.6},{"x":43.4,"y":11.5,"v":23.3},{"x":45.4,"y":11.5,"v":23.2},{"x":47.4,"y":11.5,"v":23.4},{"x":49.3,"y":11.5,"v":23.1},{"x":51.3,"y":11.5,"v":22.7},{"x":53.3,"y":11.5,"v":22.5},{"x":55.3,"y":11.5,"v":22.7},{"x":57.3,"y":11.5,"v":22.9},{"x":59.2,"y":11.5,"v":23.7},
{"x":17.7,"y":9.5,"v":24.9},{"x":19.6,"y":9.5,"v":24.2},{"x":21.6,"y":9.5,"v":24.2},{"x":23.6,"y":9.5,"v":23.9},{"x":25.6,"y":9.5,"v":23.7},{"x":27.6,"y":9.5,"v":23.6},{"x":29.5,"y":9.5,"v":23.3},{"x":31.5,"y":9.5,"v":23.2},{"x":33.5,"y":9.5,"v":23.6},{"x":35.5,"y":9.5,"v":23.9},{"x":37.5,"y":9.5,"v":24.1},{"x":39.4,"y":9.5,"v":23.9},{"x":41.4,"y":9.5,"v":23.4},{"x":43.4,"y":9.5,"v":23.7},{"x":45.4,"y":9.5,"v":23.2},{"x":47.4,"y":9.5,"v":23.4},{"x":49.3,"y":9.5,"v":23.2},{"x":51.3,"y":9.5,"v":22.8},{"x":53.3,"y":9.5,"v":22.7},{"x":55.3,"y":9.5,"v":22.9},{"x":57.3,"y":9.5,"v":23.5},
{"x":19.6,"y":7.6,"v":25.1},{"x":21.6,"y":7.6,"v":24.4},{"x":23.6,"y":7.6,"v":24.3},{"x":25.6,"y":7.6,"v":24.1},{"x":27.6,"y":7.6,"v":23.9},{"x":29.5,"y":7.6,"v":23.8},{"x":31.5,"y":7.6,"v":23.7},{"x":33.5,"y":7.6,"v":24.2},{"x":35.5,"y":7.6,"v":24.3},{"x":37.5,"y":7.6,"v":24.2},{"x":39.4,"y":7.6,"v":23.9},{"x":41.4,"y":7.6,"v":24},{"x":43.4,"y":7.6,"v":23.5},{"x":45.4,"y":7.6,"v":23.6},{"x":47.4,"y":7.6,"v":23.3},{"x":49.3,"y":7.6,"v":23.4},{"x":51.3,"y":7.6,"v":22.9},{"x":53.3,"y":7.6,"v":23},{"x":55.3,"y":7.6,"v":23.4},
{"x":23.6,"y":5.6,"v":24.6},{"x":25.6,"y":5.6,"v":24.2},{"x":27.6,"y":5.6,"v":24.3},{"x":29.5,"y":5.6,"v":24},{"x":31.5,"y":5.6,"v":24.4},{"x":33.5,"y":5.6,"v":24.4},{"x":35.5,"y":5.6,"v":24.2},{"x":37.5,"y":5.6,"v":24.1},{"x":39.4,"y":5.6,"v":23.8},{"x":41.4,"y":5.6,"v":24},{"x":43.4,"y":5.6,"v":23.9},{"x":45.4,"y":5.6,"v":23.5},{"x":47.4,"y":5.6,"v":23.3},{"x":49.3,"y":5.6,"v":23.4},{"x":51.3,"y":5.6,"v":23.6},
{"x":29.5,"y":3.6,"v":24.8},{"x":31.5,"y":3.6,"v":24.9},{"x":33.5,"y":3.6,"v":24.5},{"x":35.5,"y":3.6,"v":24.6},{"x":37.5,"y":3.6,"v":24.6},{"x":39.4,"y":3.6,"v":24.8},{"x":41.4,"y":3.6,"v":25.1},{"x":43.4,"y":3.6,"v":25.4},{"x":45.4,"y":3.6,"v":25.3}
],"outline":[{"o":1,"x":0.7,"y":45.1},{"o":2,"x":1.4,"y":48.3},{"o":3,"x":2.8,"y":51.6},{"o":4,"x":5.3,"y":56.5},{"o":5,"x":8.3,"y":60.6},{"o":6,"x":12.7,"y":65.3},{"o":7,"x":17.1,"y":68.9},{"o":8,"x":23.7,"y":72.2},{"o":9,"x":30.8,"y":74.2},{"o":10,"x":34.1,"y":74.7},{"o":11,"x":37.4,"y":74.7},{"o":12,"x":40.9,"y":74.6},{"o":13,"x":46.7,"y":73.5},{"o":14,"x":52.2,"y":71.7},{"o":15,"x":57.7,"y":68.7},{"o":16,"x":62.1,"y":65.7},{"o":17,"x":66.5,"y":61.3},{"o":18,"x":69.8,"y":56.6},{"o":19,"x":72.6,"y":51.1},{"o":20,"x":74.2,"y":45.6},{"o":21,"x":75,"y":40.7},{"o":22,"x":75,"y":33.8},{"o":23,"x":74.2,"y":29.1},{"o":24,"x":72.6,"y":23},{"o":25,"x":69.8,"y":18.1},{"o":26,"x":66.5,"y":13.7},{"o":27,"x":61.6,"y":8.5},{"o":28,"x":56.7,"y":5},{"o":29,"x":52.4,"y":2.6},{"o":30,"x":22.6,"y":2.6},{"o":31,"x":18.2,"y":5},{"o":32,"x":13.5,"y":8.2},{"o":33,"x":8.6,"y":12.9},{"o":34,"x":5.3,"y":17.6},{"o":35,"x":2.8,"y":22.8},{"o":36,"x":0.7,"y":29.4},{"o":37,"x":0.7,"y":45.1}],"hist":[{"c":20.5,"p":0.34},{"c":20.95,"p":1.84},{"c":21.4,"p":4.63},{"c":21.86,"p":8.23},{"c":22.31,"p":13.5},{"c":22.76,"p":17.1},{"c":23.21,"p":15.9},{"c":23.66,"p":12.9},{"c":24.11,"p":8.5},{"c":24.56,"p":6.02},{"c":25.01,"p":5.32},{"c":25.46,"p":3.32},{"c":25.91,"p":1.62},{"c":26.36,"p":0.54},{"c":26.81,"p":0.24},{"c":27.27,"p":0.24},{"c":27.72,"p":0.14},{"c":28.17,"p":0.14},{"c":28.62,"p":0.1},{"c":29.07,"p":0.1}]},"hconcat":[{"width":456,"height":455,"layer":[{"data":{"name":"cells"},"mark":{"type":"rect","width":12.6,"height":12.6},"encoding":{"x":{"field":"x","type":"quantitative","scale":{"domain":[0,75],"nice":false},"axis":{"values":[0,18.75,37.5,56.25,75],"labelExpr":"datum.value==0||datum.value==75?datum.label:''","format":"d","title":"x(mm)","tickSize":8,"labelPadding":8,"titleX":221,"titleY":28,"labelOverlap":false}},"y":{"field":"y","type":"quantitative","scale":{"domain":[0,75],"nice":false},"axis":{"values":[0,18.75,37.5,56.25,75],"labelExpr":"datum.value==0||datum.value==75?datum.label:''","format":"d","title":"y(mm)","titleAngle":0,"titleX":-54,"titleY":228,"titleAlign":"center","titleBaseline":"middle","tickSize":8,"labelPadding":6,"labelOverlap":false}},"color":{"field":"v","type":"quantitative","legend":null,"scale":{"type":"threshold","domain":[20.65,21.1,21.55,22,22.45,22.9,23.35,23.8,24.25,24.7,25.15,25.6,26.05,26.5,26.95,27.4,27.85,28.3,28.75],"range":["#cdea5f","#d4e03c","#e3c41a","#ebb800","#f6b000","#fca000","#ff8c00","#ff7800","#f26400","#dc5000","#c84000","#b82d00","#b01c00","#b01800","#8c1400","#640a00","#500600","#2c0000","#000000","#000000"]}}}},{"data":{"name":"outline"},"mark":{"type":"line","color":"#222","strokeWidth":1.5,"interpolate":"linear"},"encoding":{"x":{"field":"x","type":"quantitative"},"y":{"field":"y","type":"quantitative"},"order":{"field":"o","type":"quantitative"}}}]},{"width":198,"height":438,"data":{"values":[]},"mark":"point","encoding":{}},{"width":12,"height":438,"view":{"stroke":"#222","strokeWidth":2},"data":{"name":"hist"},"mark":{"type":"bar","size":16,"clip":true,"orient":"horizontal"},"encoding":{"y":{"field":"c","type":"quantitative","scale":{"domain":[20.2,29.2],"reverse":true,"nice":false,"zero":false,"padding":0},"axis":{"values":[20.2,22.45,24.7,26.95,29.2],"format":".1f","title":null,"tickSize":10,"labelPadding":2,"domain":false}},"color":{"field":"c","type":"quantitative","legend":null,"scale":{"type":"threshold","domain":[20.65,21.1,21.55,22,22.45,22.9,23.35,23.8,24.25,24.7,25.15,25.6,26.05,26.5,26.95,27.4,27.85,28.3,28.75],"range":["#cdea5f","#d4e03c","#e3c41a","#ebb800","#f6b000","#fca000","#ff8c00","#ff7800","#f26400","#dc5000","#c84000","#b82d00","#b01c00","#b01800","#8c1400","#640a00","#500600","#2c0000","#000000","#000000"]}}}},{"width":400,"height":438,"view":{"stroke":"#222","strokeWidth":2},"data":{"name":"hist"},"mark":{"type":"bar","size":16,"clip":true,"orient":"horizontal"},"encoding":{"y":{"field":"c","type":"quantitative","scale":{"domain":[20.2,29.2],"reverse":true,"nice":false,"zero":false,"padding":0},"axis":null},"x":{"field":"p","type":"quantitative","scale":{"domain":[0,20],"nice":false},"axis":{"values":[0,4,8,12,16,20],"format":"d","title":"%","titleX":424,"titleY":18,"titleFontSize":15,"tickSize":8,"labelPadding":5,"domain":false,"labelFlush":false}},"color":{"field":"c","type":"quantitative","legend":null,"scale":{"type":"threshold","domain":[20.65,21.1,21.55,22,22.45,22.9,23.35,23.8,24.25,24.7,25.15,25.6,26.05,26.5,26.95,27.4,27.85,28.3,28.75],"range":["#cdea5f","#d4e03c","#e3c41a","#ebb800","#f6b000","#fca000","#ff8c00","#ff7800","#f26400","#dc5000","#c84000","#b82d00","#b01c00","#b01800","#8c1400","#640a00","#500600","#2c0000","#000000","#000000"]}}}}]}
